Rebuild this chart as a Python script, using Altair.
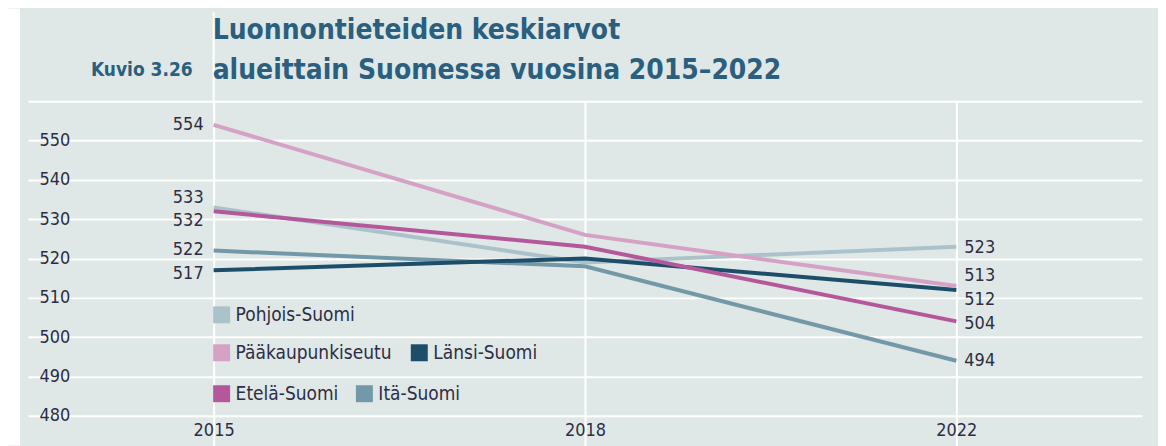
import altair as alt
import pandas as pd

# ---------------- data ----------------
years = ["2015", "2018", "2022"]
regions = ["Pohjois-Suomi", "Pääkaupunkiseutu", "Länsi-Suomi", "Etelä-Suomi", "Itä-Suomi"]
pohjois_suomi = [533, 519, 523]
paakaupunkiseutu = [554, 526, 513]
lansi_suomi = [517, 520, 512]
etela_suomi = [532, 523, 504]
ita_suomi = [522, 518, 494]
y_ticks = [480, 490, 500, 510, 520, 530, 540, 550, 560]

title_lines = ["Luonnontieteiden keskiarvot", "alueittain Suomessa vuosina 2015–2022"]
figure_label = "Kuvio 3.26"

# ---------------- styles ----------------
colors = ["#abc2ca", "#d5a2c5", "#1c4e6a", "#b5579b", "#7399a9"]
series = [pohjois_suomi, paakaupunkiseutu, lansi_suomi, etela_suomi, ita_suomi]
left_dy = [-9, 0, 4, 10, -1]
right_dy = [1, -10, 10, 3, 0]
draw_order = [4, 0, 2, 1, 3]
legend_pos = [(194, 214), (194, 252), (392, 252), (194, 293), (337, 293)]

W, H = 1116, 345
FONT = "Liberation Sans Narrow, DejaVu Sans Condensed, Arial Narrow, sans-serif"
BG = "#dfe8e6"
TXT = "#2e2d45"
TITLE = "#2b5f80"

rows = []
for r, vals in zip(regions, series):
    for yr, v in zip(years, vals):
        rows.append({"region": r, "year": yr, "value": v})
df = pd.DataFrame(rows)
one = pd.DataFrame({"k": [0]})

x_scale = alt.Scale(type="point", domain=years, paddingOuter=0.453)
y_scale = alt.Scale(domain=[472.4, 560], nice=False, zero=False)

x_axis = alt.Axis(title=None, grid=True, labelAngle=0, labelPadding=-15, labelBaseline="middle",
                  labelAlign="center", labelFontSize=18, labelFlush=False)
y_axis = alt.Axis(title=None, grid=True, values=y_ticks, orient="left", labelAlign="left",
                  labelPadding=-11, labelBaseline="middle", labelFontSize=18,
                  labelExpr="datum.value >= 560 ? '' : datum.label")

layers = []

# white strip left of the grey panel
layers.append(alt.Chart(one).mark_rect(color="white").encode(
    x=alt.value(-20), x2=alt.value(-8), y=alt.value(-93), y2=alt.value(H)))

# axes carrier (invisible)
layers.append(alt.Chart(df).mark_point(opacity=0).encode(
    x=alt.X("year:N", scale=x_scale, axis=x_axis),
    y=alt.Y("value:Q", scale=y_scale, axis=y_axis)))

# 2015 gridline extension into title area
layers.append(alt.Chart(df[df.year == "2015"].head(1)).mark_rule(color="white", strokeWidth=2).encode(
    x=alt.X("year:N", scale=x_scale), y=alt.value(-89), y2=alt.value(0)))

# lines
for i in draw_order:
    sub = df[df.region == regions[i]]
    layers.append(alt.Chart(sub).mark_line(color=colors[i], strokeWidth=4).encode(
        x=alt.X("year:N", scale=x_scale), y=alt.Y("value:Q", scale=y_scale)))

# value labels
for i, r in enumerate(regions):
    s15 = df[(df.region == r) & (df.year == years[0])]
    s22 = df[(df.region == r) & (df.year == years[-1])]
    layers.append(alt.Chart(s15).mark_text(align="right", baseline="middle", dx=-10, dy=left_dy[i],
                                           font=FONT, fontSize=18, color=TXT).encode(
        x=alt.X("year:N", scale=x_scale), y=alt.Y("value:Q", scale=y_scale), text="value:Q"))
    layers.append(alt.Chart(s22).mark_text(align="left", baseline="middle", dx=8, dy=right_dy[i],
                                           font=FONT, fontSize=18, color=TXT).encode(
        x=alt.X("year:N", scale=x_scale), y=alt.Y("value:Q", scale=y_scale), text="value:Q"))

# legend
for i, r in enumerate(regions):
    lx, ly = legend_pos[i]
    layers.append(alt.Chart(one).mark_square(color=colors[i], size=289, opacity=1).encode(
        x=alt.value(lx), y=alt.value(ly)))
    layers.append(alt.Chart(one).mark_text(text=r, align="left", baseline="middle", font=FONT,
                                           fontSize=19, color=TXT).encode(
        x=alt.value(lx + 14), y=alt.value(ly)))

# titles
layers.append(alt.Chart(one).mark_text(text=title_lines[0], align="left", baseline="alphabetic",
                                       font=FONT, fontSize=28, fontWeight="bold", color=TITLE).encode(
    x=alt.value(185), y=alt.value(-62)))
layers.append(alt.Chart(one).mark_text(text=title_lines[1], align="left", baseline="alphabetic",
                                       font=FONT, fontSize=28, fontWeight="bold", color=TITLE).encode(
    x=alt.value(185), y=alt.value(-22)))
layers.append(alt.Chart(one).mark_text(text=figure_label, align="right", baseline="alphabetic",
                                       font=FONT, fontSize=19, fontWeight="bold", color=TITLE).encode(
    x=alt.value(165), y=alt.value(-25)))

chart = alt.layer(*layers).properties(
    width=W, height=H,
    autosize=alt.AutoSizeParams(type="none"),
    padding={"left": 20, "top": 93, "right": 16, "bottom": 0},
    background=BG,
).configure_view(strokeWidth=0).configure_axis(
    gridColor="white", gridWidth=2, gridOpacity=1, domain=False, ticks=False,
    labelFont=FONT, labelColor=TXT,
)

chart.save("out.html", embed_options={"renderer": "svg", "actions": False})
